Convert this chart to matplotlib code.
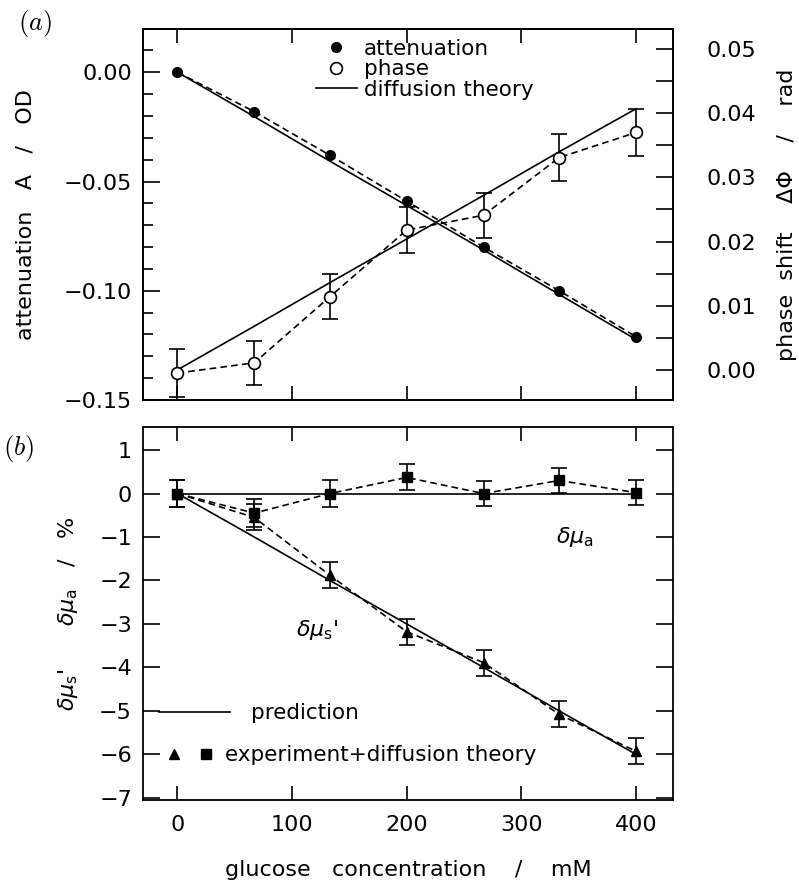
import matplotlib
matplotlib.use("Agg")
import matplotlib.pyplot as plt
from matplotlib.lines import Line2D
from matplotlib.legend_handler import HandlerTuple
from matplotlib.ticker import FuncFormatter, MultipleLocator

# ---------------- data ----------------
glucose = [0, 67, 133, 200, 267, 333, 400]

attenuation = [0.000, -0.018, -0.038, -0.059, -0.080, -0.100, -0.121]
atten_theory = [0.000, -0.0203, -0.0407, -0.061, -0.0813, -0.1017, -0.1223]

phase = [-0.0005, 0.0011, 0.0114, 0.0218, 0.0241, 0.0331, 0.0370]
phase_err = [0.0037, 0.0034, 0.0035, 0.0036, 0.0035, 0.0036, 0.0036]
phase_theory = [0.0000, 0.0068, 0.0136, 0.0204, 0.0272, 0.0340, 0.0407]

mua = [0.0, -0.45, 0.0, 0.37, 0.0, 0.30, 0.02]
mua_err = [0.30, 0.33, 0.30, 0.30, 0.28, 0.28, 0.28]
mua_pred = [0, 0, 0, 0, 0, 0, 0]

mus = [0.0, -0.55, -1.88, -3.18, -3.89, -5.08, -5.93]
mus_err = [0.30, 0.30, 0.30, 0.30, 0.30, 0.30, 0.30]
mus_pred = [0.0, -1.0, -2.0, -3.0, -4.0, -5.0, -6.0]

FS = 16
LFS = 15.5
plt.rcParams['font.family'] = ['DejaVu Sans']
plt.rcParams['mathtext.fontset'] = 'dejavusans'

fig = plt.figure(figsize=(7.99, 8.85), dpi=100)
ax = fig.add_axes([0.179, 0.548, 0.663, 0.419])
ax2 = ax.twinx()
bx = fig.add_axes([0.179, 0.096, 0.663, 0.4215])

LW = 1.2
DASH = (4, 2.5)
XLIM = (-30, 432)

def minus_fmt(fmt):
    return FuncFormatter(lambda v, p: (fmt % v).replace('-', '\u2212'))

# ---------------- panel (a) ----------------
ax.plot(glucose, atten_theory, color='black', lw=LW, zorder=2)
ax.plot(glucose, attenuation, color='black', lw=LW, ls=(0, DASH),
        marker='o', ms=7, mfc='black', mec='black', zorder=3)
ax2.plot(glucose, phase_theory, color='black', lw=LW, zorder=2)
ax2.errorbar(glucose, phase, yerr=phase_err, color='black', lw=LW,
             ls=(0, DASH), marker='o', ms=8.5, mfc='white', mec='black',
             mew=1.2, capsize=6, elinewidth=1.2, capthick=1.2, zorder=3)

ax.set_xlim(*XLIM)
ax.set_ylim(-0.15, 0.0197)
ax2.set_ylim(-0.0047, 0.0531)
ax.xaxis.set_major_locator(MultipleLocator(100))
ax.yaxis.set_major_locator(MultipleLocator(0.05))
ax.yaxis.set_minor_locator(MultipleLocator(0.01))
ax2.yaxis.set_major_locator(MultipleLocator(0.01))
ax2.yaxis.set_minor_locator(MultipleLocator(0.005))
ax.yaxis.set_major_formatter(minus_fmt('%.2f'))
ax2.yaxis.set_major_formatter(minus_fmt('%.2f'))
ax.tick_params(axis='x', which='both', direction='in', top=True, bottom=True,
               labelbottom=False, length=10, width=1.2)
ax.tick_params(axis='y', which='major', direction='in', length=12, width=1.2,
               labelsize=FS, pad=8, right=False)
ax.tick_params(axis='y', which='minor', direction='in', length=7, width=1.2, right=False)
ax2.tick_params(axis='y', which='major', direction='in', length=12, width=1.2,
                labelsize=FS, pad=24)
ax2.tick_params(axis='y', which='minor', direction='in', length=12, width=1.2)
for a in (ax, ax2, bx):
    for s in a.spines.values():
        s.set_linewidth(1.3)

ax.set_ylabel('attenuation   A   /   OD', fontsize=FS, labelpad=20)
ax2.set_ylabel('phase  shift    \u0394\u03a6    /    rad', fontsize=FS, labelpad=15)

h_att = Line2D([], [], ls='none', marker='o', ms=7, mfc='black', mec='black')
h_ph = Line2D([], [], ls='none', marker='o', ms=8.5, mfc='white', mec='black', mew=1.2)
h_th = Line2D([], [], color='black', lw=LW)
ax2.legend([h_att, h_ph, h_th], ['attenuation', 'phase', 'diffusion theory'],
           loc='center left', bbox_to_anchor=(0.326, 0.892), frameon=False,
           fontsize=LFS, handlelength=1.9, handletextpad=0.34, labelspacing=0.03,
           borderpad=0, borderaxespad=0)

# ---------------- panel (b) ----------------
bx.plot(glucose, mua_pred, color='black', lw=LW, zorder=2)
bx.plot(glucose, mus_pred, color='black', lw=LW, zorder=2)
bx.errorbar(glucose, mua, yerr=mua_err, color='black', lw=LW, ls=(0, DASH),
            marker='s', ms=6.5, mfc='black', mec='black', capsize=6,
            elinewidth=1.2, capthick=1.2, zorder=3)
bx.errorbar(glucose, mus, yerr=mus_err, color='black', lw=LW, ls=(0, DASH),
            marker='^', ms=7, mfc='black', mec='black', capsize=6,
            elinewidth=1.2, capthick=1.2, zorder=3)

bx.set_xlim(*XLIM)
bx.set_ylim(-7.05, 1.53)
bx.xaxis.set_major_locator(MultipleLocator(100))
bx.yaxis.set_major_locator(MultipleLocator(1))
bx.yaxis.set_major_formatter(minus_fmt('%d'))
bx.tick_params(axis='x', which='both', direction='in', top=True, bottom=True,
               length=10, width=1.2, labelsize=FS, pad=11)
bx.tick_params(axis='y', which='both', direction='in', left=True, right=True,
               length=12, width=1.2, labelsize=FS, pad=8)

bx.set_xlabel('glucose   concentration    /    mM', fontsize=FS, labelpad=18)
bx.set_ylabel(r"$\delta\mu_{\rm s}$'      $\delta\mu_{\rm a}$   /   %", fontsize=FS, labelpad=14)

bx.text(330, -1.0, r"$\delta\mu_{\rm a}$", fontsize=16, va='center', ha='left')
bx.text(103, -3.13, r"$\delta\mu_{\rm s}$'", fontsize=16, va='center', ha='left')

h_pred = Line2D([], [], color='black', lw=LW)
leg1 = bx.legend([h_pred], ['prediction'], loc='center left',
                 bbox_to_anchor=(0.03, 0.233), frameon=False, fontsize=LFS,
                 handlelength=3.3, handletextpad=1.0, borderpad=0, borderaxespad=0)
bx.add_artist(leg1)
h_tri = Line2D([], [], ls='none', marker='^', ms=7, mfc='black', mec='black')
h_sq = Line2D([], [], ls='none', marker='s', ms=6.5, mfc='black', mec='black')
bx.legend([(h_tri, h_sq)], ['experiment+diffusion theory'], loc='center left',
          bbox_to_anchor=(0.044, 0.12), frameon=False, fontsize=LFS,
          handlelength=2.21, handletextpad=0.5, borderpad=0, borderaxespad=0,
          handler_map={tuple: HandlerTuple(ndivide=None, pad=0.77)})

fig.text(0.022, 0.973, r"$(a)$", fontsize=19, math_fontfamily='cm', va='center')
fig.text(0.004, 0.493, r"$(b)$", fontsize=19, math_fontfamily='cm', va='center')

fig.savefig('out.png', dpi=100)
